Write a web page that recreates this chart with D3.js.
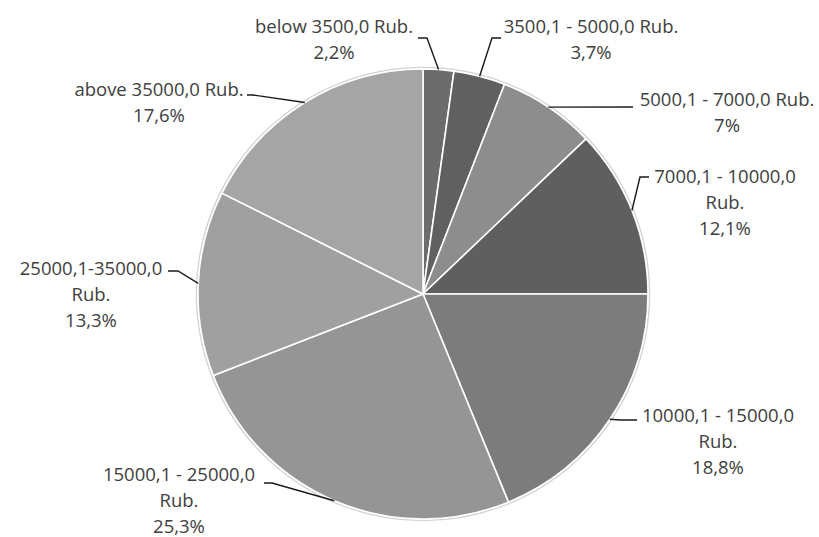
<!DOCTYPE html>
<html>
<head>
<meta charset="utf-8">
<script src="https://cdn.jsdelivr.net/npm/d3@7"></script>
<style>
  html, body { margin: 0; padding: 0; background: #fff; }
  svg { display: block; }
  .lbl { font-family: "Open Sans", sans-serif; font-size: 18.5px; fill: #404040; }
</style>
</head>
<body>
<div id="chart"></div>
<script>
// данные
var categories = [
  "below 3500,0 Rub.",
  "3500,1 - 5000,0 Rub.",
  "5000,1 - 7000,0 Rub.",
  "7000,1 - 10000,0 Rub.",
  "10000,1 - 15000,0 Rub.",
  "15000,1 - 25000,0 Rub.",
  "25000,1-35000,0 Rub.",
  "above 35000,0 Rub."
];
var shares = [2.2, 3.7, 7, 12.1, 18.8, 25.3, 13.3, 17.6];
var sliceColors = ["#6c6c6c", "#606060", "#8d8d8d", "#5f5f5f", "#7c7c7c", "#959595", "#a0a0a0", "#a5a5a5"];

// где стоят подписи (первая строка) и изломы выносок
var labelLayout = [
  { x: 334, y: 33, wrap: false, pts: [[427, 38], [418, 38]] },
  { x: 591, y: 33, wrap: false, pts: [[492, 38], [501, 38]] },
  { x: 727, y: 106, wrap: false, pts: [[633, 107]] },
  { x: 725, y: 183, wrap: true, pts: [[640, 177], [649, 177]] },
  { x: 718, y: 422, wrap: true, pts: [[620, 420], [637, 420]] },
  { x: 179, y: 481, wrap: true, pts: [[272, 483], [264, 483]] },
  { x: 91, y: 275, wrap: true, pts: [[178, 271], [168, 271]] },
  { x: 159, y: 96, wrap: false, pts: [[253, 95], [247, 95]] }
];

var width = 819,
    height = 537;
var cx = 423, cy = 294, radius = 225;
var lineH = 26;

var svg = d3.select("#chart").append("svg")
  .attr("width", width)
  .attr("height", height);

var pie = d3.pie().sort(null).value(function(d) { return d; });
var arcs = pie(shares);

var arc = d3.arc().innerRadius(0).outerRadius(radius);
var edgeArc = d3.arc().innerRadius(radius).outerRadius(radius);

var g = svg.append("g").attr("transform", "translate(" + cx + "," + cy + ")");

// лёгкая тень по краю
g.append("circle")
  .attr("r", radius + 1.5)
  .attr("fill", "none")
  .attr("stroke", "#d4d4d4")
  .attr("stroke-width", 1.5);

g.selectAll("path.slice")
  .data(arcs)
  .enter()
    .append("path")
    .attr("class", "slice")
    .attr("d", arc)
    .attr("fill", function(d, i) { return sliceColors[i]; })
    .attr("stroke", "#ffffff")
    .attr("stroke-width", 1.6)
    .attr("stroke-linejoin", "round");

// выноски
svg.selectAll("path.leader")
  .data(arcs)
  .enter()
    .append("path")
    .attr("class", "leader")
    .attr("fill", "none")
    .attr("stroke", "#1a1a1a")
    .attr("stroke-width", 1.4)
    .attr("d", function(d, i) {
      var c = edgeArc.centroid(d);
      var pts = [[cx + c[0], cy + c[1]]].concat(labelLayout[i].pts);
      return d3.line()(pts);
    });

function pctText(v) {
  return String(v).replace(".", ",") + "%";
}

// подписи
var labels = svg.selectAll("text.lbl")
  .data(arcs)
  .enter()
    .append("text")
    .attr("class", "lbl")
    .attr("text-anchor", "middle");

labels.each(function(d, i) {
  var lay = labelLayout[i];
  var name = categories[i];
  var lines = lay.wrap ? [name.replace(/ Rub\.$/, ""), "Rub."] : [name];
  lines.push(pctText(shares[i]));
  var t = d3.select(this);
  lines.forEach(function(s, k) {
    t.append("tspan")
      .attr("x", lay.x)
      .attr("y", lay.y + k * lineH)
      .text(s);
  });
});
</script>
</body>
</html>
